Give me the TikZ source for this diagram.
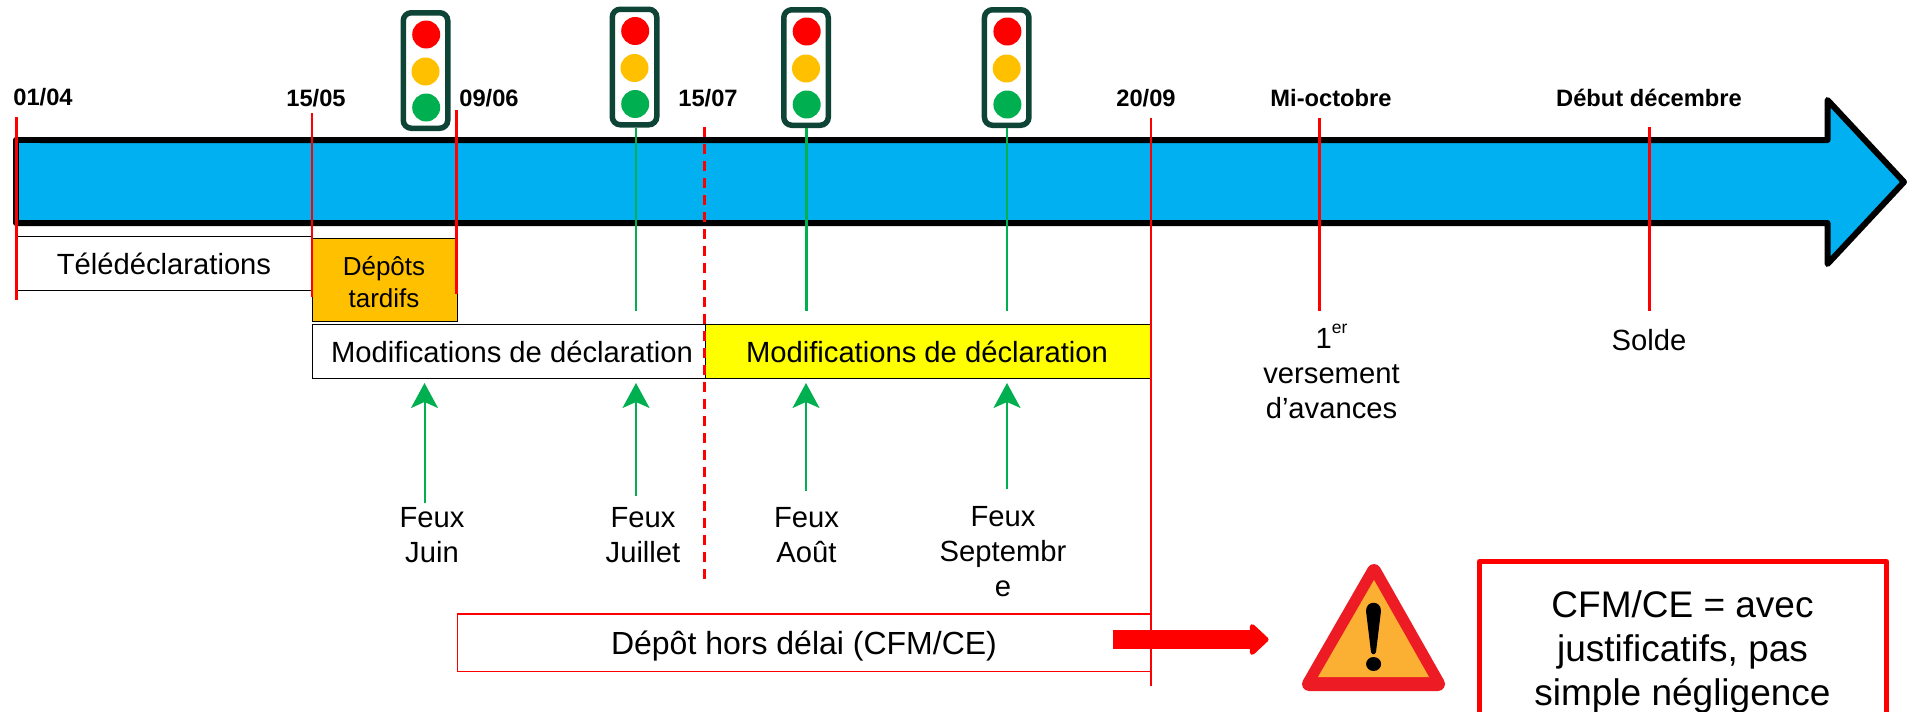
\documentclass[tikz,border=0pt]{standalone}
\usepackage{fontspec}
\setmainfont{Liberation Sans}
\usetikzlibrary{arrows.meta}
\definecolor{barblue}{HTML}{00B0F0}
\definecolor{lampgreen}{HTML}{00B050}
\definecolor{lampamber}{HTML}{FFC000}
\definecolor{framegreen}{HTML}{0E4436}
\definecolor{warnred}{HTML}{ED1C24}
\definecolor{warnamber}{HTML}{FBB034}
\definecolor{boxyellow}{HTML}{FFFF00}
\definecolor{pure}{HTML}{FF0000}
\tikzset{
  datelabel/.style={font=\fontsize{23.7}{28}\selectfont\bfseries,anchor=base,inner sep=0pt},
  bodytext/.style={font=\fontsize{29.2}{35}\selectfont,align=center,inner sep=0pt},
  bigtext/.style={font=\fontsize{37}{44}\selectfont,align=center,inner sep=0pt},
  holdtext/.style={font=\fontsize{32}{38}\selectfont,align=center,inner sep=0pt},
  smalltext/.style={font=\fontsize{26}{32}\selectfont,align=center,inner sep=0pt},
  frame/.style={draw=framegreen,line width=5.5pt,rounded corners=8pt,fill=white,minimum width=44.5pt,minimum height=115.5pt,inner sep=0pt},
  lamp/.style={circle,minimum size=28pt,inner sep=0pt},
  redline/.style={draw=pure,line width=2.4pt},
  greenline/.style={draw=lampgreen,line width=2.6pt},
  feuxarrow/.style={draw=lampgreen,line width=2pt,fill=lampgreen,-{Stealth[length=25pt,width=27pt,inset=6pt,sep=5pt,fill=lampgreen,color=lampgreen]}},
  plainbox/.style={draw=black,line width=1.2pt,inner sep=0pt},
}
\newcommand{\feu}[3]{%
  \node[frame] (#1) at (#2,#3) {};
  \node[lamp,fill=pure] (#1r) at (#2+0.7,#3-36) {};
  \node[lamp,fill=lampamber] (#1a) at (#2,#3+1) {};
  \node[lamp,fill=lampgreen] (#1g) at (#2+0.7,#3+37) {};
}
\begin{document}
\begin{tikzpicture}[x=1pt,y=-1pt]
\useasboundingbox (0,0) rectangle (1907,712);
% main arrow
\draw[line width=6pt,line join=round,fill=barblue] (1904,182) -- (1827.5,264) -- (1827.5,223) -- (16,223) -- (16,140) -- (1827.5,140) -- (1827.5,100) -- cycle;
\fill[barblue] (19,143) rectangle (40,220);
% boxes
\node[plainbox,minimum width=295.5pt,minimum height=54pt,anchor=north west,fill=white] (tele) at (16.5,236) {};
\node[bodytext] at (164,264) {Télédéclarations};
\node[plainbox,fill=lampamber,minimum width=144.5pt,minimum height=83pt,anchor=north west] (tardif) at (312,238) {};
\node[smalltext] at (384,282) {Dépôts\\tardifs};
\node[plainbox,fill=white,minimum width=392.5pt,minimum height=54pt,anchor=north west] (modA) at (312,324) {};
\node[bodytext] at (512,352) {Modifications de déclaration};
\node[plainbox,fill=boxyellow,minimum width=446pt,minimum height=54pt,anchor=north west] (modB) at (704.5,324) {};
\node[bodytext] at (927,352) {Modifications de déclaration};
\node[draw=pure,line width=1.2pt,minimum width=694pt,minimum height=57.5pt,anchor=north west,inner sep=0pt] (hors) at (457,613.3) {};
\node[holdtext] at (804,646) {Dépôt hors délai (CFM/CE)};
% date labels
\node[datelabel] (d1) at (43,105) {01/04};
\node[datelabel] (d2) at (316,106) {15/05};
\node[datelabel] (d3) at (489,106) {09/06};
\node[datelabel] (d4) at (708,106) {15/07};
\node[datelabel] (d5) at (1146,106) {20/09};
\node[datelabel] (d6) at (1331,106) {Mi-octobre};
\node[datelabel] (d7) at (1649,106) {Début décembre};
% line ends
\coordinate (a1) at (16.5,117); \coordinate (b1) at (16.5,300);
\coordinate (a2) at (312,113); \coordinate (b2) at (312,297);
\coordinate (a3) at (456.5,110); \coordinate (b3) at (456.5,294);
\coordinate (a4) at (704.5,127); \coordinate (b4) at (704.5,580);
\coordinate (a5) at (1151,118); \coordinate (b5) at (1151,686);
\coordinate (a6) at (1319.5,118); \coordinate (b6) at (1319.5,311);
\coordinate (a7) at (1649.5,127); \coordinate (b7) at (1649.5,311);
\draw[redline] (a1) -- (b1);
\draw[redline] (a2) -- (b2);
\draw[redline] (a3) -- (b3);
\draw[pure,line width=2.8pt,dash pattern=on 10pt off 7pt] (a4) -- (b4);
\draw[redline] (a5) -- (b5);
\draw[redline] (a6) -- (b6);
\draw[redline] (a7) -- (b7);
% traffic lights
\feu{f1}{425.5}{70.5}
\feu{f2}{634.5}{67}
\feu{f3}{806}{67.5}
\feu{f4}{1006.7}{67.5}
\coordinate (s2) at (636,311);
\coordinate (s3) at (806.5,311);
\coordinate (s4) at (1007,311);
\draw[greenline] (f2.south -| s2) -- (s2);
\draw[greenline] (f3.south -| s3) -- (s3);
\draw[greenline] (f4.south -| s4) -- (s4);
% feux labels and arrows
\node[bodytext] (l1) at (432,535) {Feux\\Juin};
\node[bodytext] (l2) at (643,535) {Feux\\Juillet};
\node[bodytext] (l3) at (806.5,535) {Feux\\Août};
\node[bodytext] (l4) at (1003,552) {Feux\\Septembr\\e};
\coordinate (t1) at (424.5,378); \coordinate (u1) at (424.5,503);
\coordinate (t2) at (636,378); \coordinate (u2) at (636,496);
\coordinate (t3) at (806,378); \coordinate (u3) at (806,491);
\coordinate (t4) at (1007,378); \coordinate (u4) at (1007,489);
\draw[feuxarrow] (u1) -- (t1);
\draw[feuxarrow] (u2) -- (t2);
\draw[feuxarrow] (u3) -- (t3);
\draw[feuxarrow] (u4) -- (t4);
% right labels
\node[bodytext] (acompte) at (1331.5,371.5) {1\raisebox{0.52em}{\fontsize{17.5}{20}\selectfont er}\\versement\\d’avances};
\node[bodytext] (solde) at (1649,340) {Solde};
% red arrow and warning
\coordinate (r1) at (1112.5,639.5); \coordinate (r2) at (1268.5,639.5);
\draw[pure,line width=19pt,-{Triangle[length=20pt,width=36pt,round]}] (r1) -- (r2);
\path[fill=warnred,draw=warnred,line width=14pt,line join=round] (1309,684) -- (1374,571) -- (1438,684) -- cycle;
\fill[warnamber] (1318,677) -- (1374,580) -- (1429,677) -- cycle;
\fill[black] (1366,611) .. controls (1366,600) and (1381,600) .. (1381,611) -- (1376,652) .. controls (1375,655) and (1372,655) .. (1371,652) -- cycle;
\fill[black] (1373.6,664) ellipse [x radius=7.5pt,y radius=7pt];
% CFM box
\draw[pure,line width=5pt,line join=round] (1479.5,712) -- (1479.5,561.5) -- (1886.5,561.5) -- (1886.5,712);
\node[bigtext] (cfm) at (1682.5,652) {CFM/CE = avec\\justificatifs, pas\\simple négligence};
\end{tikzpicture}
\end{document}
